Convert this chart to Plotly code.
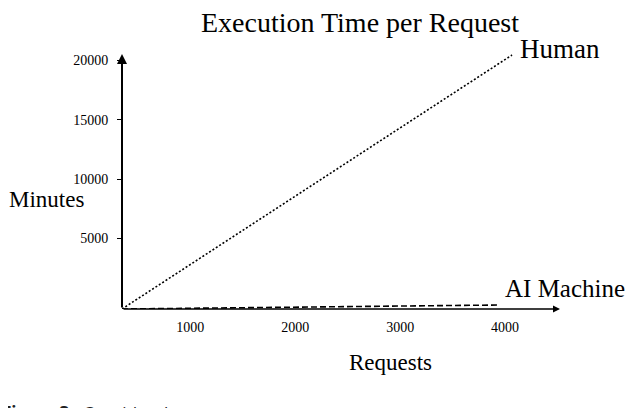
import plotly.graph_objects as go

# Data
human_x = [350, 4066]
human_y = [-926, 20450]
ai_x = [350, 3932]
ai_y = [-926, -590]

x_ticks = [1000, 2000, 3000, 4000]
y_ticks = [5000, 10000, 15000, 20000]
x_range = [350, 4523]
y_range = [-926, 20535]

SERIF = "Liberation Serif"
OFF = 8  # page body margin offset

fig = go.Figure()
fig.add_trace(go.Scatter(x=human_x, y=human_y, mode="lines",
                         line=dict(color="black", width=1.6, dash="2px,2px"),
                         showlegend=False, cliponaxis=False))
fig.add_trace(go.Scatter(x=ai_x, y=ai_y, mode="lines",
                         line=dict(color="black", width=1.6, dash="6px,3px"),
                         showlegend=False, cliponaxis=False))

annotations = [
    # axes with arrowheads
    dict(x=x_range[1], y=y_range[0], ax=x_range[0], ay=y_range[0], xref="x", yref="y",
         axref="x", ayref="y", showarrow=True, arrowhead=2, arrowsize=1, arrowwidth=1.4,
         arrowcolor="black", text=""),
    dict(x=x_range[0], y=y_range[1], ax=x_range[0], ay=y_range[0], xref="x", yref="y",
         axref="x", ayref="y", showarrow=True, arrowhead=2, arrowsize=1, arrowwidth=2,
         arrowcolor="black", text=""),
    # series labels
    dict(x=human_x[-1], y=human_y[-1], xref="x", yref="y", text="Human", showarrow=False,
         xanchor="left", yanchor="middle", xshift=6, yshift=6,
         font=dict(family=SERIF, size=27, color="black")),
    dict(x=ai_x[-1], y=ai_y[-1], xref="x", yref="y", text="AI Machine", showarrow=False,
         xanchor="left", yanchor="middle", xshift=5, yshift=17,
         font=dict(family=SERIF, size=25, color="black")),
    # axis titles
    dict(x=(46 - 122) / 438, y=(309 - 199) / 255, xref="paper", yref="paper", text="Minutes",
         showarrow=False, xanchor="center", yanchor="middle",
         font=dict(family=SERIF, size=23, color="black")),
    dict(x=(390 - 122) / 438, y=(309 - 362) / 255, xref="paper", yref="paper", text="Requests",
         showarrow=False, xanchor="center", yanchor="middle",
         font=dict(family=SERIF, size=23, color="black")),
    # cropped caption
    dict(x=-122 / 438, y=(309 - 399) / 255, xref="paper", yref="paper",
         text="<b>Figure 3.</b>  Consider the", showarrow=False,
         xanchor="left", yanchor="top",
         font=dict(family="Open Sans", size=17, color="#222")),
]

fig.update_layout(
    width=640, height=408,
    margin=dict(l=122 - OFF, r=640 - (560 - OFF), t=54 - OFF, b=408 - (309 - OFF)),
    paper_bgcolor="white", plot_bgcolor="white",
    title=dict(text="Execution Time per Request", x=(360 - OFF) / 640, xanchor="center",
               y=1 - 4 / 408, yanchor="top", xref="container", yref="container",
               font=dict(family=SERIF, size=28, color="black")),
    xaxis=dict(range=x_range, tickvals=x_ticks, ticktext=[str(v) for v in x_ticks],
               showgrid=False, zeroline=False, showline=False, ticks="",
               tickfont=dict(family=SERIF, size=14, color="black"),
               ticklabelstandoff=8),
    yaxis=dict(range=y_range, tickvals=y_ticks, ticktext=[str(v) for v in y_ticks],
               showgrid=False, zeroline=False, showline=False, ticks="outside",
               ticklen=4, tickwidth=1, tickcolor="black",
               tickfont=dict(family=SERIF, size=14, color="black"),
               ticklabelstandoff=6),
    annotations=annotations,
    showlegend=False,
)

fig.write_html("out.html")
